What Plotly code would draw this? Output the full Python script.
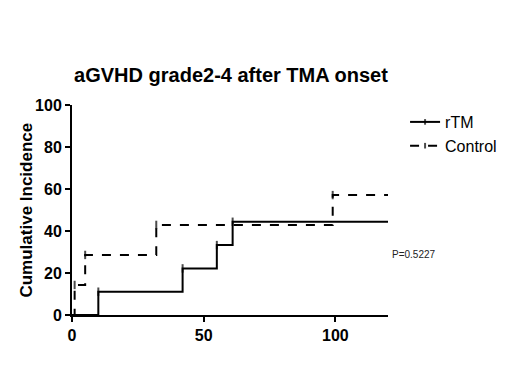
import plotly.graph_objects as go

# Data
rtm_t = [0, 10, 42, 55, 61, 120]
rtm_y = [0, 11.1, 22.2, 33.3, 44.4, 44.4]
rtm_censor = [0, 1, 1, 1, 1, 0]

ctrl_t = [0, 1, 5, 32, 99, 120]
ctrl_y = [0, 14.3, 28.6, 42.9, 57.1, 57.1]
ctrl_censor = [0, 1, 1, 1, 1, 0]

x_ticks = [0, 50, 100]
y_ticks = [0, 20, 40, 60, 80, 100]

FONT = "Liberation Sans, Arial"

fig = go.Figure()
fig.add_trace(go.Scatter(
    x=rtm_t, y=rtm_y, name="rTM", mode="lines+markers", line_shape="hv",
    line=dict(color="black", width=2),
    marker=dict(symbol="line-ns", size=[6 * c for c in rtm_censor],
                line=dict(color="black", width=2), color="black"),
))
fig.add_trace(go.Scatter(
    x=ctrl_t, y=ctrl_y, name="Control", mode="lines+markers", line_shape="hv",
    line=dict(color="black", width=2, dash="dash"),
    marker=dict(symbol="line-ns", size=[6 * c for c in ctrl_censor],
                line=dict(color="black", width=2), color="black"),
))

fig.add_annotation(text="P=0.5227", x=1.006, y=0.29, xref="paper", yref="paper",
                   xanchor="left", yanchor="middle", showarrow=False,
                   font=dict(family=FONT, size=10, color="#222"))

# y-axis title placed as a rotated annotation for exact positioning
fig.add_annotation(text="<b>Cumulative Incidence</b>", x=-0.147, y=0.5,
                   xref="paper", yref="paper", xanchor="center", yanchor="middle",
                   textangle=-90, showarrow=False,
                   font=dict(family=FONT, size=17, color="black"))

# Body of the page has an 8px margin, so the figure is sized to fit.
fig.update_layout(
    width=512, height=382,
    margin=dict(l=64, r=132, t=97, b=75),
    paper_bgcolor="white", plot_bgcolor="white",
    title=dict(text="<b>aGVHD grade2-4 after TMA onset</b>", x=0.4355, xanchor="center",
               y=0.8246, yanchor="middle",
               font=dict(family=FONT, size=20, color="black")),
    font=dict(family=FONT, color="black"),
    legend=dict(x=1.054, y=1.0, xanchor="left", yanchor="top",
                font=dict(size=16, color="black"), bgcolor="rgba(0,0,0,0)",
                itemwidth=30),
    showlegend=True,
)
fig.update_xaxes(range=[0, 120], tickvals=x_ticks, showgrid=False, zeroline=False,
                 showline=True, linecolor="black", linewidth=2,
                 ticks="outside", tickwidth=2, ticklen=5, tickcolor="black",
                 tickfont=dict(size=16, family=FONT, weight="bold"))
fig.update_yaxes(range=[0, 100], tickvals=y_ticks, showgrid=False, zeroline=False,
                 showline=True, linecolor="black", linewidth=2,
                 ticks="outside", tickwidth=2, ticklen=5, tickcolor="black",
                 tickfont=dict(size=16, family=FONT, weight="bold"))

fig.write_html("out.html")
